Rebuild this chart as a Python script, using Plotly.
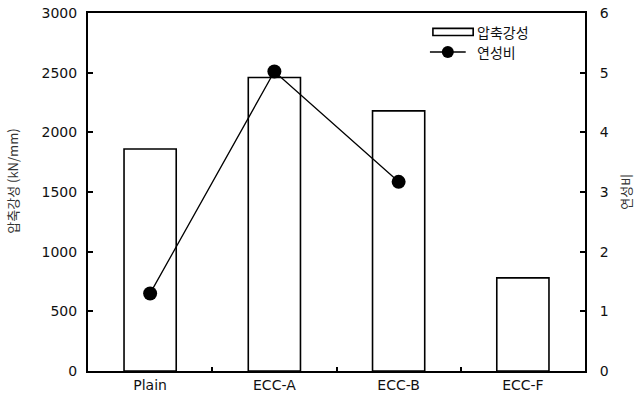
import plotly.graph_objects as go

categories = ["Plain", "ECC-A", "ECC-B", "ECC-F"]
stiffness = [1860, 2460, 2180, 780]          # 압축강성 (kN/mm)
ductility = [1.30, 5.02, 3.17, None]          # 연성비
left_ticks = [0, 500, 1000, 1500, 2000, 2500, 3000]
right_ticks = [0, 1, 2, 3, 4, 5, 6]

num_font = dict(family="DejaVu Sans, sans-serif", size=14, color="#111")
kr_font = "Noto Sans CJK KR"

fig = go.Figure()
fig.add_trace(go.Bar(
    x=categories, y=stiffness, name="압축강성", width=0.42,
    marker=dict(color="white", line=dict(color="black", width=1.6)),
))
fig.add_trace(go.Scatter(
    x=categories, y=ductility, name="연성비", yaxis="y2", mode="lines+markers",
    line=dict(color="black", width=1.3),
    marker=dict(color="black", size=14),
))

# custom legend (paper coordinates)
shapes = [
    dict(type="rect", xref="paper", yref="paper", x0=0.694, x1=0.775, y0=0.937, y1=0.957,
         line=dict(color="black", width=1.6), fillcolor="white"),
    dict(type="line", xref="paper", yref="paper", x0=0.688, x1=0.760, y0=0.891, y1=0.891,
         line=dict(color="black", width=1.3)),
    dict(type="circle", xref="paper", yref="paper", xsizemode="pixel", ysizemode="pixel",
         xanchor=0.724, yanchor=0.891, x0=-6, x1=6, y0=-6, y1=6,
         fillcolor="black", line=dict(color="black", width=0)),
]

fig.update_layout(
    width=634, height=404,
    margin=dict(l=88, r=49, t=13, b=33, autoexpand=False),
    paper_bgcolor="white", plot_bgcolor="white",
    showlegend=False,
    shapes=shapes,
    xaxis=dict(type="category", range=[-0.5, 3.5], showline=True, linecolor="black",
               linewidth=2, mirror=True, ticks="inside", ticklen=4, tickwidth=1.5,
               tickcolor="black", tickson="boundaries", showgrid=False,
               tickfont=num_font, automargin=False),
    yaxis=dict(range=[0, 3000], tickvals=left_ticks, showline=True, linecolor="black",
               linewidth=2, ticks="inside", ticklen=5, tickwidth=1.5, tickcolor="black",
               showgrid=False, zeroline=False, tickfont=num_font, ticklabelstandoff=6,
               automargin=False),
    yaxis2=dict(range=[0, 6], tickvals=right_ticks, overlaying="y", side="right",
                showline=True, linecolor="black", linewidth=2, ticks="inside",
                ticklen=5, tickwidth=1.5, tickcolor="black", showgrid=False,
                zeroline=False, tickfont=num_font, ticklabelstandoff=10,
                automargin=False),
    annotations=[
        dict(text="압축강성 (kN/mm)", textangle=-90, xref="paper", yref="paper",
             x=-0.152, y=0.53, showarrow=False, xanchor="center", yanchor="middle",
             font=dict(family=kr_font, size=13, color="#333")),
        dict(text="연성비", textangle=-90, xref="paper", yref="paper",
             x=1.08, y=0.5, showarrow=False, xanchor="center", yanchor="middle",
             font=dict(family=kr_font, size=13, color="#333")),
        dict(text="압축강성", xref="paper", yref="paper", x=0.779, y=0.947,
             showarrow=False, xanchor="left", yanchor="middle",
             font=dict(family=kr_font, size=14, color="#111")),
        dict(text="연성비", xref="paper", yref="paper", x=0.779, y=0.891,
             showarrow=False, xanchor="left", yanchor="middle",
             font=dict(family=kr_font, size=14, color="#111")),
    ],
)

fig.write_html("out.html")
